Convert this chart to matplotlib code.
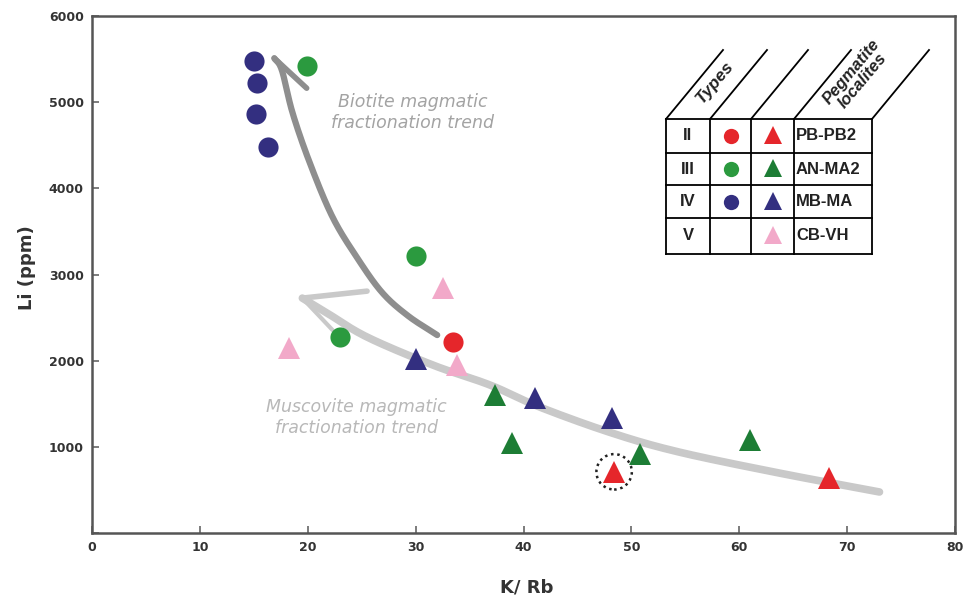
import numpy as np
import matplotlib
matplotlib.use("Agg")
import matplotlib.pyplot as plt

# ---------------- data ----------------
# circles (types)
ii_circ_x = [33.5]
ii_circ_y = [2216]
iii_circ_x = [19.9, 30.0, 23.0]
iii_circ_y = [5420, 3215, 2275]
iv_circ_x = [15.0, 15.3, 15.2, 16.3]
iv_circ_y = [5475, 5220, 4860, 4480]
# triangles (pegmatite localities)
pb_tri_x = [48.4, 68.3]
pb_tri_y = [710, 640]
an_tri_x = [37.4, 38.9, 50.8, 61.0]
an_tri_y = [1600, 1045, 915, 1080]
mb_tri_x = [30.0, 41.1, 48.2]
mb_tri_y = [2020, 1565, 1335]
cb_tri_x = [18.3, 32.5, 33.8]
cb_tri_y = [2145, 2840, 1950]
# highlighted sample
circled_x = [48.4]
circled_y = [710]

# trend arrows (annotation paths)
musc_x = [19.5, 21.8, 25.5, 31.6, 36.9, 41.5, 48.2, 54.4, 63.7, 73.0]
musc_y = [2726, 2552, 2274, 1949, 1717, 1462, 1160, 940, 696, 476]
bio_x = [32.0, 29.3, 26.9, 24.6, 22.3, 20.2, 18.6, 17.6, 16.9]
bio_y = [2297, 2520, 2790, 3190, 3666, 4292, 4872, 5371, 5510]

x_ticks = [0, 10, 20, 30, 40, 50, 60, 70, 80]
y_ticks = [0, 1000, 2000, 3000, 4000, 5000, 6000]

table_types = ["II", "III", "IV", "V"]
table_locs = ["PB-PB2", "AN-MA2", "MB-MA", "CB-VH"]

RED = "#e5262b"
GREEN_C = "#2b9a3f"
GREEN_T = "#1d7d35"
BLUE = "#332f80"
PINK = "#f2a9c9"

# ---------------- figure ----------------
W, H = 963, 600
fig = plt.figure(figsize=(W / 100, H / 100), dpi=100)
ax = fig.add_axes([92 / W, (H - 533) / H, 863 / W, 517 / H])
ax.set_xlim(0, 80)
ax.set_ylim(0, 6000)


def catmull(xs, ys, n=20):
    pts = np.column_stack([xs, ys]).astype(float)
    sc = np.array([1.0, 80 / 6000 * 517 / 863])
    p = pts * sc
    p = np.vstack([p[0] * 2 - p[1], p, p[-1] * 2 - p[-2]])
    out = []
    for i in range(1, len(p) - 2):
        p0, p1, p2, p3 = p[i - 1], p[i], p[i + 1], p[i + 2]
        for t in np.linspace(0, 1, n, endpoint=False):
            t2, t3 = t * t, t * t * t
            out.append(0.5 * ((2 * p1) + (-p0 + p2) * t + (2 * p0 - 5 * p1 + 4 * p2 - p3) * t2
                              + (-p0 + 3 * p1 - 3 * p2 + p3) * t3))
    out.append(p[-2])
    out = np.array(out) / sc
    return out[:, 0], out[:, 1]


# muscovite trend (light grey)
mx, my = catmull(musc_x, musc_y)
ax.plot(mx, my, color="#c9c9c9", lw=5.5, solid_capstyle="round", zorder=1)
ax.plot([musc_x[0], 25.5], [musc_y[0], 2807], color="#c9c9c9", lw=4, solid_capstyle="round", zorder=1)
ax.plot([musc_x[0], 22.3], [musc_y[0], 2355], color="#c9c9c9", lw=3, solid_capstyle="round", zorder=1)

# biotite trend (dark grey)
bx, by = catmull(bio_x, bio_y)
ax.plot(bx, by, color="#8e8e8e", lw=4.5, solid_capstyle="round", zorder=2)
ax.plot([bio_x[-1], 19.9], [bio_y[-1], 5162], color="#8e8e8e", lw=4, solid_capstyle="round", zorder=2)

# markers
cs = 14.5
ts = 16
ax.plot(ii_circ_x, ii_circ_y, "o", color=RED, ms=cs, mew=0, zorder=4)
ax.plot(iii_circ_x, iii_circ_y, "o", color=GREEN_C, ms=cs, mew=0, zorder=4)
ax.plot(iv_circ_x, iv_circ_y, "o", color=BLUE, ms=cs, mew=0, zorder=4)
ax.plot(pb_tri_x, pb_tri_y, "^", color=RED, ms=ts, mew=0, zorder=4)
ax.plot(an_tri_x, an_tri_y, "^", color=GREEN_T, ms=ts, mew=0, zorder=4)
ax.plot(mb_tri_x, mb_tri_y, "^", color=BLUE, ms=ts, mew=0, zorder=4)
ax.plot(cb_tri_x, cb_tri_y, "^", color=PINK, ms=ts, mew=0, zorder=3)
ax.scatter(circled_x, circled_y, s=(25.5) ** 2, facecolors="none", edgecolors="#222222",
           linestyles=(0, (1, 1.5)), linewidths=1.8, zorder=5)

# trend texts
ax.text(29.7, 4880, "Biotite magmatic\nfractionation trend", color="#a3a3a3",
        fontsize=12.5, style="italic", ha="center", va="center", linespacing=1.25)
ax.text(24.5, 1340, "Muscovite magmatic\nfractionation trend", color="#b8b8b8",
        fontsize=12.5, style="italic", ha="center", va="center", linespacing=1.25)

# axes styling
for s in ax.spines.values():
    s.set_color("#555555")
    s.set_linewidth(1.8)
ax.set_xticks(x_ticks)
ax.set_yticks(y_ticks)
ax.set_yticklabels(["" if v == 0 else str(v) for v in y_ticks])
ax.tick_params(direction="in", length=5, width=1.2, color="#666666",
               labelsize=9, labelcolor="#333333", pad=6)
for lab in ax.get_xticklabels() + ax.get_yticklabels():
    lab.set_fontweight("bold")
ax.set_xlabel("K/ Rb", fontsize=13, fontweight="bold", color="#333333")
ax.set_ylabel("Li (ppm)", fontsize=13, fontweight="bold", color="#333333")
ax.xaxis.set_label_coords((527 - 92) / 863, -(578 - 533) / 517)
ax.yaxis.set_label_coords(-(92 - 36) / 863, (533 - 268) / 517)

# ---------------- table overlay (pixel coordinates) ----------------
ov = fig.add_axes([0, 0, 1, 1], zorder=10)
ov.set_xlim(0, W)
ov.set_ylim(H, 0)
ov.axis("off")
ov.patch.set_alpha(0)

cols = [666, 710, 751, 794, 872]
rows = [119, 153, 185, 218, 254]
lw = 1.3
ov.add_patch(plt.Rectangle((cols[0], rows[0]), cols[-1] - cols[0], rows[-1] - rows[0],
                           facecolor="white", edgecolor="none", zorder=0))
for c in cols:
    ov.plot([c, c], [rows[0], rows[-1]], color="black", lw=lw)
for r in rows:
    ov.plot([cols[0], cols[-1]], [r, r], color="black", lw=lw)
dx, dy = 57, 69
for c in cols:
    ov.plot([c, c + dx], [rows[0], rows[0] - dy], color="black", lw=lw)

ov.text(715, 82, "Types", rotation=50, ha="center", va="center", fontsize=12.5,
        fontweight="bold", style="italic", color="#222222", family="Liberation Sans")
ov.text(857, 76, "Pegmatite\nlocalites", rotation=50, ha="center", va="center", fontsize=12,
        fontweight="bold", style="italic", color="#222222", family="Liberation Sans",
        linespacing=0.9)

circ_cols = [RED, GREEN_C, BLUE, None]
tri_cols = [RED, GREEN_T, BLUE, PINK]
for i in range(4):
    yc = (rows[i] + rows[i + 1]) / 2
    ov.text((cols[0] + cols[1]) / 2, yc, table_types[i], ha="center", va="center",
            fontsize=12, fontweight="bold", color="#222222", family="Liberation Sans")
    if circ_cols[i]:
        ov.plot([(cols[1] + cols[2]) / 2], [yc], "o", color=circ_cols[i], ms=11, mew=0)
    ov.plot([(cols[2] + cols[3]) / 2], [yc - 1], "^", color=tri_cols[i], ms=13, mew=0)
    ov.text(cols[3] + 2, yc, table_locs[i], ha="left", va="center",
            fontsize=12, fontweight="bold", color="#222222", family="Liberation Sans")

fig.savefig("out.png", dpi=100, facecolor="white")
